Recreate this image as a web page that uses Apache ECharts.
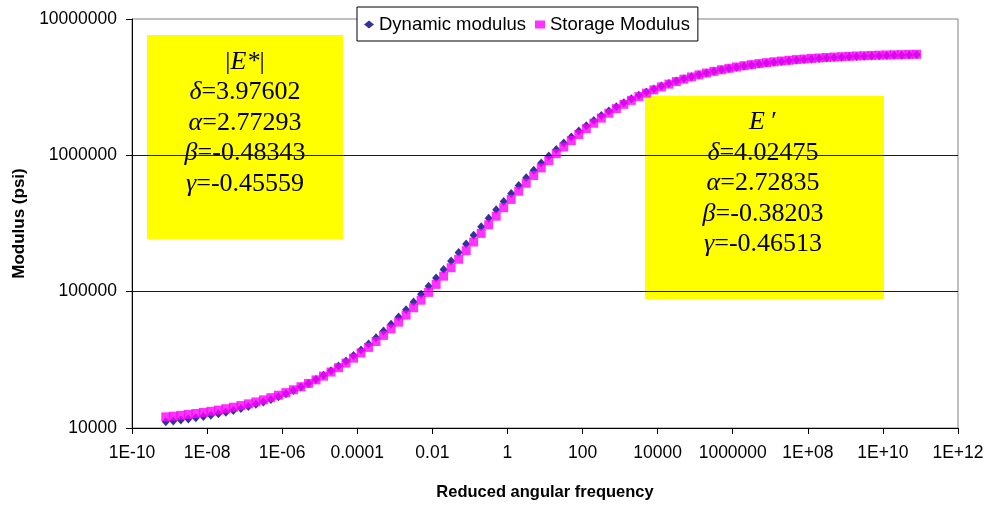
<!DOCTYPE html>
<html>
<head>
<meta charset="utf-8">
<script src="https://cdn.jsdelivr.net/npm/echarts@6/dist/echarts.min.js"></script>
<style>
  html, body { margin: 0; padding: 0; background: #fff; }
  #chart { width: 987px; height: 506px; }
</style>
</head>
<body>
<div id="chart"></div>
<script>
// Reduced angular frequency, as log10 values (evenly spaced master-curve points)
const logFrequency = [
  -9.1, -8.9, -8.7, -8.5, -8.3, -8.1, -7.9, -7.7, -7.5, -7.3,
  -7.1, -6.9, -6.7, -6.5, -6.3, -6.1, -5.9, -5.7, -5.5, -5.3,
  -5.1, -4.9, -4.7, -4.5, -4.3, -4.1, -3.9, -3.7, -3.5, -3.3,
  -3.1, -2.9, -2.7, -2.5, -2.3, -2.1, -1.9, -1.7, -1.5, -1.3,
  -1.1, -0.9, -0.7, -0.5, -0.3, -0.1, 0.1, 0.3, 0.5, 0.7,
  0.9, 1.1, 1.3, 1.5, 1.7, 1.9, 2.1, 2.3, 2.5, 2.7,
  2.9, 3.1, 3.3, 3.5, 3.7, 3.9, 4.1, 4.3, 4.5, 4.7,
  4.9, 5.1, 5.3, 5.5, 5.7, 5.9, 6.1, 6.3, 6.5, 6.7,
  6.9, 7.1, 7.3, 7.5, 7.7, 7.9, 8.1, 8.3, 8.5, 8.7,
  8.9, 9.1, 9.3, 9.5, 9.7, 9.9, 10.1, 10.3, 10.5, 10.7,
  10.9
];

// Dynamic modulus |E*|, log10(psi)
const dynamicLogModulus = [
  4.0454, 4.0519, 4.0589, 4.0665, 4.0749, 4.0839, 4.0938, 4.1045, 4.1161, 4.1287,
  4.1424, 4.1573, 4.1733, 4.1907, 4.2095, 4.2297, 4.2515, 4.2749, 4.3001, 4.3271,
  4.3560, 4.3869, 4.4198, 4.4549, 4.4920, 4.5314, 4.5730, 4.6168, 4.6627, 4.7109,
  4.7612, 4.8134, 4.8676, 4.9236, 4.9813, 5.0403, 5.1007, 5.1620, 5.2242, 5.2870,
  5.3501, 5.4133, 5.4762, 5.5387, 5.6004, 5.6612, 5.7208, 5.7790, 5.8357, 5.8906,
  5.9436, 5.9946, 6.0437, 6.0905, 6.1351, 6.1776, 6.2179, 6.2558, 6.2916, 6.3254,
  6.3570, 6.3866, 6.4144, 6.4402, 6.4643, 6.4868, 6.5077, 6.5270, 6.5450, 6.5615,
  6.5768, 6.5910, 6.6041, 6.6162, 6.6273, 6.6374, 6.6467, 6.6554, 6.6632, 6.6705,
  6.6771, 6.6832, 6.6890, 6.6940, 6.6986, 6.7031, 6.7069, 6.7107, 6.7139, 6.7169,
  6.7196, 6.7223, 6.7245, 6.7267, 6.7286, 6.7302, 6.7319, 6.7335, 6.7349, 6.7360,
  6.7371
];

// Storage modulus E', log10(psi)
const storageLogModulus = [
  4.0816, 4.0870, 4.0929, 4.0994, 4.1064, 4.1141, 4.1225, 4.1317, 4.1416, 4.1525,
  4.1643, 4.1772, 4.1911, 4.2063, 4.2227, 4.2404, 4.2596, 4.2804, 4.3028, 4.3269,
  4.3528, 4.3806, 4.4104, 4.4423, 4.4762, 4.5124, 4.5508, 4.5914, 4.6343, 4.6794,
  4.7269, 4.7764, 4.8282, 4.8819, 4.9375, 4.9948, 5.0537, 5.1140, 5.1754, 5.2377,
  5.3006, 5.3640, 5.4274, 5.4907, 5.5535, 5.6156, 5.6768, 5.7368, 5.7954, 5.8523,
  5.9075, 5.9609, 6.0120, 6.0611, 6.1081, 6.1528, 6.1953, 6.2354, 6.2733, 6.3090,
  6.3426, 6.3739, 6.4032, 6.4307, 6.4562, 6.4799, 6.5019, 6.5223, 6.5412, 6.5587,
  6.5749, 6.5897, 6.6035, 6.6160, 6.6276, 6.6384, 6.6482, 6.6573, 6.6654, 6.6729,
  6.6798, 6.6863, 6.6920, 6.6972, 6.7022, 6.7067, 6.7107, 6.7144, 6.7178, 6.7210,
  6.7237, 6.7264, 6.7288, 6.7309, 6.7328, 6.7347, 6.7363, 6.7376, 6.7390, 6.7403,
  6.7414
];

const seriesNames = ['Dynamic modulus', 'Storage Modulus'];

// Axis tick labels, one per tick (x every two decades, y every decade)
const xTickLabels = ['1E-10', '1E-08', '1E-06', '0.0001', '0.01', '1', '100', '10000', '1000000', '1E+08', '1E+10', '1E+12'];
const yTickLabels = ['10000', '100000', '1000000', '10000000'];

// Sigmoidal fit coefficients shown in the two boxes
const dynamicFitSymbols = ['δ', 'α', 'β', 'γ'];
const dynamicFitValues = ['3.97602', '2.77293', '-0.48343', '-0.45559'];
const storageFitSymbols = ['δ', 'α', 'β', 'γ'];
const storageFitValues = ['4.02475', '2.72835', '-0.38203', '-0.46513'];

function toPoints(logX, logY) {
  return logX.map((lx, i) => [Math.pow(10, lx), Math.pow(10, logY[i])]);
}

function fitText(titleRich, symbols, values) {
  const rows = symbols.map((s, i) => '{i|' + s + '}{n|=' + values[i] + '}');
  return [titleRich].concat(rows).join('\n');
}

const serifFont = '"Liberation Serif", "Times New Roman", serif';
const richStyles = {
  i: { fontFamily: serifFont, fontStyle: 'italic', fontSize: 26, lineHeight: 30.5, fill: '#000' },
  n: { fontFamily: serifFont, fontSize: 26, lineHeight: 30.5, fill: '#000' }
};

const chart = echarts.init(document.getElementById('chart'), null, { renderer: 'canvas' });

const axisFont = 'Arial, "Liberation Sans", sans-serif';

chart.setOption({
  animation: false,
  backgroundColor: '#fff',
  grid: {
    left: 132, right: 29, top: 19, bottom: 76,
    show: true, borderColor: '#808080', borderWidth: 1, backgroundColor: 'transparent'
  },
  legend: {
    left: 357, top: 7,
    padding: [8, 8, 7, 7],
    itemGap: 9,
    itemWidth: 10, itemHeight: 8,
    borderColor: '#000', borderWidth: 1, backgroundColor: '#fff',
    textStyle: { fontFamily: axisFont, fontSize: 18.5, color: '#000' },
    data: [
      { name: seriesNames[0], icon: 'diamond' },
      { name: seriesNames[1], icon: 'rect' }
    ]
  },
  xAxis: {
    type: 'log', logBase: 10,
    min: 1e-10, max: 1e12, interval: 2,
    name: 'Reduced angular frequency',
    nameLocation: 'middle', nameGap: 56,
    nameTextStyle: { fontFamily: axisFont, fontSize: 16.5, fontWeight: 'bold', color: '#000' },
    axisLine: { lineStyle: { color: '#000', width: 1 } },
    axisTick: { show: true, length: 6, lineStyle: { color: '#000' } },
    minorTick: { show: false },
    splitLine: { show: false },
    axisLabel: {
      fontFamily: axisFont, fontSize: 17.5, color: '#000', margin: 16,
      formatter: v => xTickLabels[Math.round((Math.log10(v) + 10) / 2)]
    }
  },
  yAxis: {
    type: 'log', logBase: 10,
    min: 1e4, max: 1e7, interval: 1,
    name: 'Modulus (psi)',
    nameLocation: 'middle', nameGap: 101,
    nameTextStyle: { fontFamily: axisFont, fontSize: 17, fontWeight: 'bold', color: '#000' },
    axisLine: { lineStyle: { color: '#000', width: 1 } },
    axisTick: { show: true, length: 6, lineStyle: { color: '#000' } },
    minorTick: { show: false },
    splitLine: { show: true, showMaxLine: false, lineStyle: { color: '#1a1a1a', width: 1 } },
    axisLabel: {
      fontFamily: axisFont, fontSize: 17.5, color: '#000', margin: 15,
      formatter: v => yTickLabels[Math.round(Math.log10(v) - 4)]
    }
  },
  series: [
    {
      name: seriesNames[0],
      type: 'scatter',
      symbol: 'diamond',
      symbolSize: [8, 9],
      itemStyle: { color: '#000080' },
      data: toPoints(logFrequency, dynamicLogModulus),
      z: 2
    },
    {
      name: seriesNames[1],
      type: 'scatter',
      symbol: 'rect',
      symbolSize: 9,
      itemStyle: { color: '#FF00FF' },
      data: toPoints(logFrequency, storageLogModulus),
      z: 3
    }
  ],
  graphic: [
    {
      type: 'group', z: 10,
      children: [
        { type: 'rect', shape: { x: 147, y: 35, width: 196, height: 204 }, style: { fill: '#FFFF00' } },
        {
          type: 'text', x: 245, y: 123,
          style: {
            text: fitText('{n||}{i|E*}{n||}', dynamicFitSymbols, dynamicFitValues),
            align: 'center', verticalAlign: 'middle', rich: richStyles
          }
        }
      ]
    },
    {
      type: 'group', z: 10,
      children: [
        { type: 'rect', shape: { x: 645, y: 96, width: 239, height: 203 }, style: { fill: '#FFFF00' } },
        {
          type: 'text', x: 763, y: 183.5,
          style: {
            text: fitText('{i|E}{n| ′}', storageFitSymbols, storageFitValues),
            align: 'center', verticalAlign: 'middle', rich: richStyles
          }
        }
      ]
    }
  ]
});
</script>
</body>
</html>
